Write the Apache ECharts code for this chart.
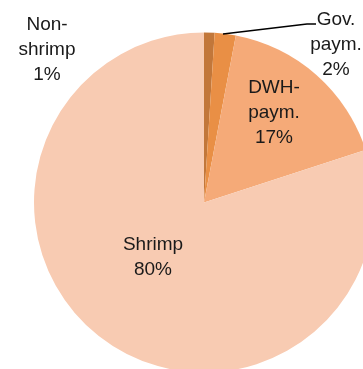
<!DOCTYPE html>
<html>
<head>
<meta charset="utf-8">
<script src="https://cdn.jsdelivr.net/npm/echarts@6/dist/echarts.min.js"></script>
<style>
  html, body { margin: 0; padding: 0; background: #fff; }
  #chart { width: 363px; height: 369px; }
</style>
</head>
<body>
<div id="chart"></div>
<script>
// Revenue shares by source
const categories = ['Non-\nshrimp', 'Gov.\npaym.', 'DWH-\npaym.', 'Shrimp'];
const shares = [1, 2, 17, 80];

const sliceColors = ['#C2773A', '#E98F45', '#F5AA78', '#F8CBB2'];

// Where each label block is centred, in pixels
const labelSpots = [
  [47, 50],
  [336, 45],
  [274, 113],
  [153, 257]
];

const labelFont = {
  fontFamily: 'Liberation Sans, Arial, sans-serif',
  fontSize: 19,
  lineHeight: 25,
  fill: '#1a1a1a'
};

const chart = echarts.init(document.getElementById('chart'), null, { renderer: 'canvas' });

const labelGraphics = categories.map((name, i) => ({
  type: 'text',
  x: labelSpots[i][0],
  y: labelSpots[i][1],
  z: 100,
  silent: true,
  style: Object.assign({
    text: name + '\n' + shares[i] + '%',
    align: 'center',
    verticalAlign: 'middle'
  }, labelFont)
}));

// leader line from the small "Gov. paym." slice to its label
labelGraphics.push({
  type: 'polyline',
  z: 100,
  silent: true,
  shape: { points: [[223, 34], [307, 24], [316, 24]] },
  style: { stroke: '#000', lineWidth: 1.3, fill: null }
});

chart.setOption({
  animation: false,
  series: [{
    type: 'pie',
    center: [204, 202.5],
    radius: 170,
    startAngle: 90,
    clockwise: true,
    itemStyle: { borderWidth: 0 },
    label: { show: false },
    labelLine: { show: false },
    emphasis: { disabled: true },
    data: categories.map((name, i) => ({
      name: name,
      value: shares[i],
      itemStyle: { color: sliceColors[i] }
    }))
  }],
  graphic: labelGraphics
});
</script>
</body>
</html>
